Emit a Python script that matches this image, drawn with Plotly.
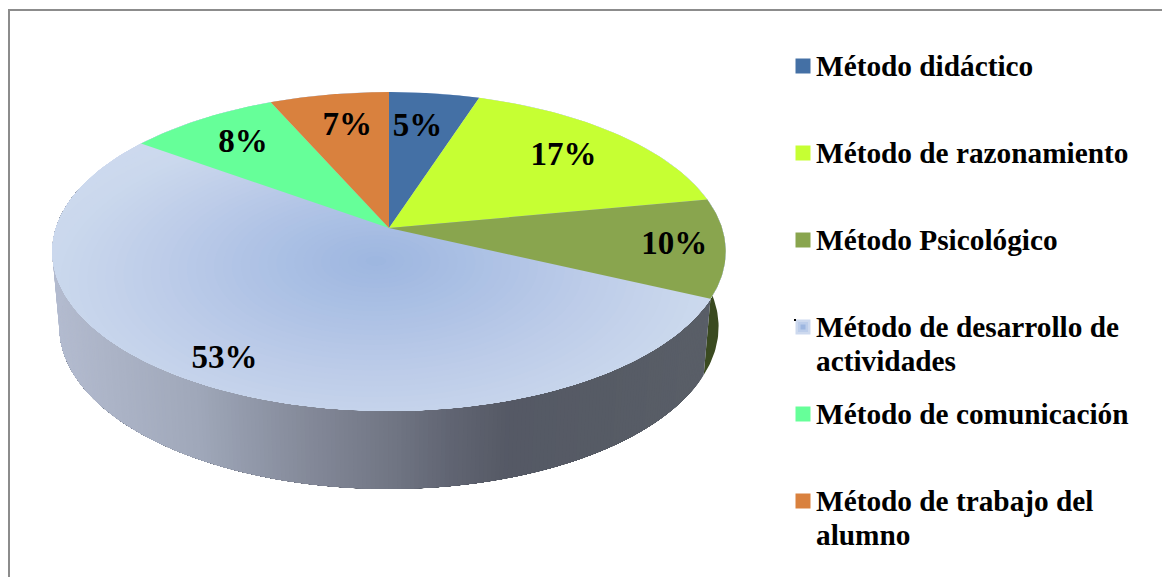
import numpy as np
import plotly.graph_objects as go

categories = [["Método didáctico"], ["Método de razonamiento"], ["Método Psicológico"],
              ["Método de desarrollo de", "actividades"], ["Método de comunicación"],
              ["Método de trabajo del", "alumno"]]
values = [5.0, 17.0, 10.0, 53.0, 8.4, 6.6]
labels = ["5%", "17%", "10%", "53%", "8%", "7%"]
colors = ["#4470A5", "#C6FF33", "#89A54E", "#CDD9EE", "#66FF99", "#D9813E"]
label_radius = [0.73, 0.75, 0.85, 0.864, 0.76, 0.74]
label_dx = [-6, 0, 0, 0, 0, 4]
legend_rows = [66, 153, 240, 327, 414, 501]
FONT = "Liberation Serif"

# projection of the pie (perspective ellipse)
CX, CY, A, B, K = 389, 228, 333, 156, 0.1473
CY2, A2, B2 = 303, 326, 158.5


def top(u, v):
    w = 1 - K * v
    return CX + A * u / w, CY + B * v / w


def bottom(u, v):
    w = 1 - K * v
    return CX + A2 * u / w, CY2 + B2 * v / w


def uv(t):
    return np.sin(t), -np.cos(t)


def poly(x, y, color, **kw):
    return go.Scatter(x=list(x), y=list(y), mode="lines", fill="toself", fillcolor=color,
                      line=dict(width=0, color=color), hoverinfo="skip", showlegend=False, **kw)


def hexmix(stops, p):
    xs = [s[0] for s in stops]
    r = np.interp(p, xs, [int(s[1][1:3], 16) for s in stops])
    g = np.interp(p, xs, [int(s[1][3:5], 16) for s in stops])
    b = np.interp(p, xs, [int(s[1][5:7], 16) for s in stops])
    return f"rgb({r:.0f},{g:.0f},{b:.0f})"


fig = go.Figure()
fracs = np.cumsum([0] + values) / sum(values)
angles = fracs * 2 * np.pi

# side wall: olive part, then the graded part
t = np.linspace(np.radians(80), angles[3], 40)
xt, yt = top(*uv(t))
xb, yb = bottom(*uv(t))
fig.add_trace(poly(np.r_[xt, xb[::-1]], np.r_[yt, yb[::-1]], "#3A4A20"))

wall_stops = [(55, "#B4BCD0"), (200, "#A0A8BA"), (300, "#868C9C"), (400, "#6F7482"),
              (450, "#616573"), (510, "#555965"), (600, "#565B65"), (720, "#5A5F68")]
ts = np.linspace(angles[3], np.radians(285), 260)
for i in range(len(ts) - 1):
    seg = np.linspace(ts[i], ts[-1], max(2, (len(ts) - i) // 3 + 2))
    xt, yt = top(*uv(seg))
    xb, yb = bottom(*uv(seg))
    fig.add_trace(poly(np.r_[xt, xb[::-1]], np.r_[yt, yb[::-1]], hexmix(wall_stops, xb[0])))

# top face: radial shading, then the other slices on top of it
circle = np.linspace(0, 2 * np.pi, 240)
grad_u, grad_v = -0.038, 0.205
grad_stops = [(0, "#9DB6E0"), (0.3, "#ABC0E4"), (0.65, "#BECDE9"), (0.95, "#CBD8ED"), (1.3, "#CFDBEF")]
for r in np.linspace(1.3, 0.03, 50):
    u = grad_u + r * np.cos(circle)
    v = grad_v + r * np.sin(circle)
    n = np.maximum(1, np.hypot(u, v))
    x, y = top(u / n, v / n)
    fig.add_trace(poly(x, y, hexmix(grad_stops, r)))

for i, c in enumerate(colors):
    if i == 3:
        continue
    seg = np.linspace(angles[i], angles[i + 1], 50)
    x, y = top(*uv(seg))
    fig.add_trace(poly(np.r_[CX, x], np.r_[CY, y], c))

# percentage labels
mids = (angles[:-1] + angles[1:]) / 2
lu, lv = uv(mids)
lu, lv = lu * np.array(label_radius), lv * np.array(label_radius)
lx, ly = top(lu, lv)
fig.add_trace(go.Scatter(x=lx + np.array(label_dx), y=ly + 1, mode="text",
                         text=[f"<b>{s}</b>" for s in labels],
                         textfont=dict(family=FONT, size=33, color="#000000"),
                         textposition="middle center", hoverinfo="skip", showlegend=False))

# legend
for i, (name, c, row) in enumerate(zip(categories, colors, legend_rows)):
    if i == 3:
        for size, col in [(15, "#CDD9EE"), (10, "#BCCDEA"), (5, "#9DB6E0")]:
            fig.add_trace(go.Scatter(x=[803], y=[row], mode="markers", hoverinfo="skip", showlegend=False,
                                     marker=dict(symbol="square", size=size, color=col, line_width=0)))
        fig.add_trace(go.Scatter(x=[795], y=[320], mode="markers", hoverinfo="skip", showlegend=False,
                                 marker=dict(symbol="square", size=2, color="#000000", line_width=0)))
    else:
        fig.add_trace(go.Scatter(x=[803], y=[row], mode="markers", hoverinfo="skip", showlegend=False,
                                 marker=dict(symbol="square", size=15, color=c, line_width=0)))
    for j, line in enumerate(name):
        fig.add_annotation(x=816, y=row + 34 * j, xref="x", yref="y", xanchor="left", yanchor="middle",
                           yshift=0, text=f"<b>{line}</b>", showarrow=False, align="left",
                           font=dict(family=FONT, size=29.3, color="#000000"), borderpad=0, borderwidth=0)

fig.update_layout(
    width=1162, height=577, margin=dict(l=0, r=0, t=0, b=0),
    paper_bgcolor="#FFFFFF", plot_bgcolor="#FFFFFF", showlegend=False,
    xaxis=dict(range=[0, 1162], visible=False, fixedrange=True),
    yaxis=dict(range=[577, 0], visible=False, fixedrange=True),
    shapes=[dict(type="rect", xref="x", yref="y", x0=9, y0=10, x1=1175, y1=590,
                 line=dict(color="#8C8C8C", width=2), fillcolor="rgba(0,0,0,0)")],
)
fig.write_html("out.html", config=dict(displayModeBar=False),
               post_script="document.body.style.margin='0';")
